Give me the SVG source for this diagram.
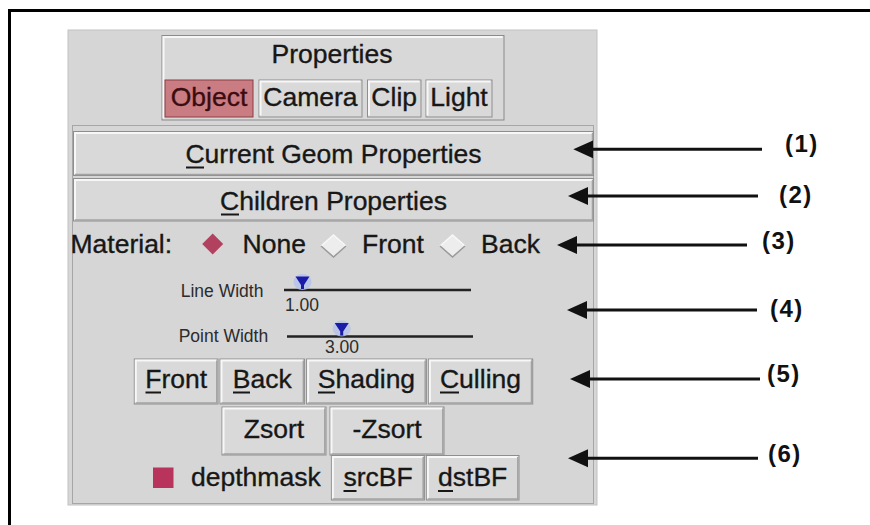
<svg xmlns="http://www.w3.org/2000/svg" width="870" height="525" viewBox="0 0 870 525">
  <style>
    .t { font-family: "Liberation Sans", Arial, sans-serif; font-size: 26.5px; fill: #171717; stroke: #171717; stroke-width: 0.35px; }
    .c { text-anchor: middle; }
    .sm { font-size: 17.5px; fill: #2c2c2c; stroke: none; }
    .lbl { font-family: "Liberation Sans", Arial, sans-serif; font-weight: bold; font-size: 24px; letter-spacing: 1.5px; fill: #111; }
    .btn { fill: #d9d9d9; stroke: #8e8e8e; stroke-width: 1; }
    .hi { fill: none; stroke: #f7f7f7; stroke-width: 2; }
    .sh { fill: none; stroke: #a2a2a2; stroke-width: 1.5; }
    .ul { stroke: #171717; stroke-width: 2; }
    .arrow { stroke: #111; stroke-width: 3; fill: none; marker-end: url(#head); }
    .rail { stroke: #222; stroke-width: 2.5; }
    .knob { fill: #1b1ba8; }
    .glow { fill: #b3c0ec; opacity: 0.8; }
    .radio { fill: #ededed; }
    .radio-lt { fill: none; stroke: #f8f8f8; stroke-width: 1.5; }
    .radio-dk { fill: none; stroke: #9a9a9a; stroke-width: 1.5; }
  </style>
  <defs>
    <marker id="head" markerUnits="userSpaceOnUse" viewBox="0 -10 22 20" markerWidth="22" markerHeight="20" refX="10" refY="0" orient="auto">
      <path d="M0,-9 L20,0 L0,9 z" fill="#111"/>
    </marker>
  </defs>

  <!-- page frame (top and left edges) -->
  <rect x="0" y="0" width="870" height="525" fill="#fff"/>
  <rect x="8" y="9" width="862" height="3" fill="#000"/>
  <rect x="8" y="9" width="3" height="516" fill="#000"/>

  <!-- dialog background -->
  <g id="panel">
    <rect x="68" y="30" width="529" height="475" fill="#d6d6d6" stroke="#c2c2c2" stroke-width="1"/>
    <rect x="72.5" y="125.5" width="521" height="378" fill="none" stroke="#a6a6a6" stroke-width="1"/>
  </g>

  <!-- Properties tab box -->
  <g id="properties">
    <rect x="162" y="35.5" width="342" height="84.5" fill="#d8d8d8" stroke="#8a8a8a" stroke-width="1"/>
    <path class="hi" d="M163.5,118.5 V37 H502.5" stroke-width="1"/>
    <text class="t c" x="332" y="63">Properties</text>
  </g>
  <g id="tab-object">
    <rect x="165" y="80" width="88" height="37" fill="#c97c81" stroke="#8c3c44" stroke-width="1"/>
    <text class="t c" x="209" y="106" style="fill:#3b0c10;stroke:#3b0c10">Object</text>
  </g>
  <g id="tab-camera">
    <rect class="btn" x="259" y="80" width="103" height="37"/>
    <path class="hi" d="M260.5,115.5 V81.5 H360.5"/>
    <text class="t c" x="310.5" y="106">Camera</text>
  </g>
  <g id="tab-clip">
    <rect class="btn" x="367.5" y="80" width="53.5" height="37"/>
    <path class="hi" d="M369,115.5 V81.5 H419.5"/>
    <text class="t c" x="394.2" y="106">Clip</text>
  </g>
  <g id="tab-light">
    <rect class="btn" x="426" y="80" width="66" height="37"/>
    <path class="hi" d="M427.5,115.5 V81.5 H490.5"/>
    <text class="t c" x="459" y="106">Light</text>
  </g>

  <!-- wide buttons -->
  <g id="btn-current-geom">
    <rect class="btn" x="73.5" y="131.5" width="520" height="44"/>
    <path class="hi" d="M75,174 V133 H592"/>
    <path class="sh" d="M75,174.5 H592.5 V133"/>
    <text class="t c" x="333.5" y="163">Current Geom Properties</text>
    <line class="ul" x1="186" y1="167.5" x2="204" y2="167.5"/>
  </g>
  <g id="btn-children">
    <rect class="btn" x="73.5" y="178.5" width="520" height="42.5"/>
    <path class="hi" d="M75,219.5 V180 H592"/>
    <path class="sh" d="M75,220 H592.5 V180"/>
    <text class="t c" x="333.5" y="210">Children Properties</text>
    <line class="ul" x1="221" y1="214.5" x2="239" y2="214.5"/>
  </g>

  <!-- material radio row -->
  <g id="material">
    <text class="t" x="70.5" y="252.5">Material:</text>
    <path d="M212.7,233.5 L223.2,244 L212.7,254.5 L202.2,244 z" fill="#b2405f"/>
    <text class="t" x="242.6" y="252.5">None</text>
    <path class="radio" d="M333.5,235 L346,246 L333.5,257 L321,246 z"/>
    <path class="radio-lt" d="M321,246 L333.5,235 L346,246"/>
    <path class="radio-dk" d="M321,246 L333.5,257 L346,246"/>
    <text class="t" x="362" y="252.5">Front</text>
    <path class="radio" d="M452.5,235 L465,246 L452.5,257 L440,246 z"/>
    <path class="radio-lt" d="M440,246 L452.5,235 L465,246"/>
    <path class="radio-dk" d="M440,246 L452.5,257 L465,246"/>
    <text class="t" x="481" y="252.5">Back</text>
  </g>

  <!-- sliders -->
  <g id="slider-line-width">
    <text class="t sm" x="180.7" y="297">Line Width</text>
    <line class="rail" x1="284" y1="290" x2="471" y2="290"/>
    <ellipse class="glow" cx="302.5" cy="282" rx="9" ry="8"/>
    <path class="knob" d="M295.5,276.5 H309.5 L304,285 V289 H301 V285 z"/>
    <text class="t sm" x="285" y="310.8">1.00</text>
  </g>
  <g id="slider-point-width">
    <text class="t sm" x="178.7" y="341.8">Point Width</text>
    <line class="rail" x1="287" y1="336.6" x2="473" y2="336.6"/>
    <ellipse class="glow" cx="341.7" cy="328.5" rx="9" ry="8"/>
    <path class="knob" d="M334.7,323 H348.7 L343.2,331.5 V335.5 H340.2 V331.5 z"/>
    <text class="t sm" x="325" y="352.5">3.00</text>
  </g>

  <!-- face / shading buttons -->
  <g id="btn-front">
    <rect class="btn" x="134.3" y="359" width="83.7" height="45"/>
    <path class="hi" d="M135.8,402.5 V360.5 H216.5"/>
    <path class="sh" d="M135.8,403 H216.8 V360.5"/>
    <text class="t c" x="176.2" y="388">Front</text>
    <line class="ul" x1="145.5" y1="392.5" x2="161" y2="392.5"/>
  </g>
  <g id="btn-back">
    <rect class="btn" x="220" y="359" width="84.6" height="45"/>
    <path class="hi" d="M221.5,402.5 V360.5 H303"/>
    <path class="sh" d="M221.5,403 H303.4 V360.5"/>
    <text class="t c" x="262.3" y="388">Back</text>
    <line class="ul" x1="233" y1="392.5" x2="250" y2="392.5"/>
  </g>
  <g id="btn-shading">
    <rect class="btn" x="306.6" y="359" width="119.8" height="45"/>
    <path class="hi" d="M308.1,402.5 V360.5 H425"/>
    <path class="sh" d="M308.1,403 H425.2 V360.5"/>
    <text class="t c" x="366.5" y="388">Shading</text>
    <line class="ul" x1="318" y1="392.5" x2="335" y2="392.5"/>
  </g>
  <g id="btn-culling">
    <rect class="btn" x="428.4" y="359" width="104.3" height="45"/>
    <path class="hi" d="M429.9,402.5 V360.5 H531"/>
    <path class="sh" d="M429.9,403 H531.5 V360.5"/>
    <text class="t c" x="480.5" y="388">Culling</text>
    <line class="ul" x1="440" y1="392.5" x2="459" y2="392.5"/>
  </g>

  <!-- sort buttons -->
  <g id="btn-zsort">
    <rect class="btn" x="222" y="407" width="104" height="48"/>
    <path class="hi" d="M223.5,453.5 V408.5 H324.5"/>
    <path class="sh" d="M223.5,454 H324.8 V408.5"/>
    <text class="t c" x="274" y="438">Zsort</text>
  </g>
  <g id="btn-neg-zsort">
    <rect class="btn" x="330" y="407" width="114" height="48"/>
    <path class="hi" d="M331.5,453.5 V408.5 H442.5"/>
    <path class="sh" d="M331.5,454 H442.8 V408.5"/>
    <text class="t c" x="387" y="438">-Zsort</text>
  </g>

  <!-- depth mask and blend buttons -->
  <g id="depthmask">
    <rect x="153" y="467.5" width="20.5" height="20.5" fill="#b8345c"/>
    <text class="t" x="191" y="486.4">depthmask</text>
  </g>
  <g id="btn-srcbf">
    <rect class="btn" x="331.4" y="455.5" width="93" height="44.5"/>
    <path class="hi" d="M332.9,498.5 V457 H423"/>
    <path class="sh" d="M332.9,499 H423.2 V457"/>
    <text class="t c" x="378" y="486.4">srcBF</text>
    <line class="ul" x1="343.5" y1="491" x2="356.5" y2="491"/>
  </g>
  <g id="btn-dstbf">
    <rect class="btn" x="426.4" y="455.5" width="92.6" height="44.5"/>
    <path class="hi" d="M427.9,498.5 V457 H517.5"/>
    <path class="sh" d="M427.9,499 H517.8 V457"/>
    <text class="t c" x="472.7" y="486.4">dstBF</text>
    <line class="ul" x1="438" y1="491" x2="453" y2="491"/>
  </g>

  <!-- callout arrows -->
  <g id="connectors">
    <line class="arrow" x1="762" y1="149.3" x2="583.3" y2="149.3"/>
    <line class="arrow" x1="758" y1="196" x2="578" y2="196"/>
    <line class="arrow" x1="747" y1="245" x2="567" y2="245"/>
    <line class="arrow" x1="757" y1="310" x2="577" y2="310"/>
    <line class="arrow" x1="760" y1="379" x2="580" y2="379"/>
    <line class="arrow" x1="758" y1="458.3" x2="578" y2="458.3"/>
  </g>

  <!-- callout labels -->
  <g id="labels">
    <text class="lbl" x="785" y="151.5">(1)</text>
    <text class="lbl" x="779" y="203">(2)</text>
    <text class="lbl" x="762" y="249">(3)</text>
    <text class="lbl" x="770" y="317">(4)</text>
    <text class="lbl" x="767" y="382">(5)</text>
    <text class="lbl" x="768" y="462">(6)</text>
  </g>
</svg>
